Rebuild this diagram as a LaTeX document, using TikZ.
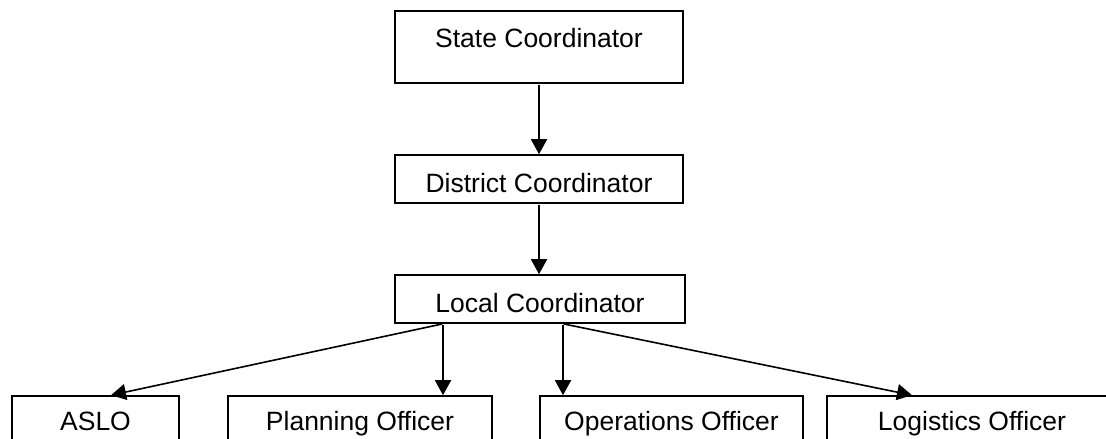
\documentclass[tikz,border=0pt]{standalone}
\usepackage{fontspec}
\setmainfont{Liberation Sans}
\usetikzlibrary{arrows.meta}
\begin{document}
\begin{tikzpicture}[x=1pt,y=-1pt,
  box/.style={draw, line width=1.6pt, inner sep=0pt, text height=26pt, text depth=0pt,
    font=\fontsize{26.5}{30}\selectfont},
  arr/.style={line width=1.6pt, -{Triangle[length=15pt,width=16pt]}, shorten <=0.8pt}]
\useasboundingbox (0,0) rectangle (1106,439);
\clip (0,0) rectangle (1106,439);
\node[box, minimum width=288pt, minimum height=72pt, text height=19pt, text depth=19pt] (state) at (539,47) {State Coordinator};
\node[box, minimum width=288pt, minimum height=48pt] (district) at (539,179) {District Coordinator};
\node[box, minimum width=290pt, minimum height=48pt] (local) at (540,299) {Local Coordinator};
\node[box, minimum width=167pt, minimum height=48pt, text height=20pt] (aslo) at (95.5,420) {ASLO};
\node[box, minimum width=264pt, minimum height=48pt, text height=20pt] (plan) at (360,420) {Planning Officer};
\node[box, minimum width=263pt, minimum height=48pt, text height=20pt] (ops) at (671.5,420) {Operations Officer};
\node[box, minimum width=290pt, minimum height=48pt, text height=20pt] (log) at (972,420) {Logistics Officer};
\draw[arr] (state.south) -- (district.north);
\draw[arr] (district.south) -- (district.south |- local.north);
\draw[arr] ([xshift=-97pt]local.south) -- ([xshift=15.5pt]aslo.north);
\draw[arr] ([xshift=-97pt]local.south) -- ([xshift=83pt]plan.north);
\draw[arr] ([xshift=23pt]local.south) -- ([xshift=-108.5pt]ops.north);
\draw[arr] ([xshift=23pt]local.south) -- ([xshift=-60pt]log.north);
\end{tikzpicture}
\end{document}
